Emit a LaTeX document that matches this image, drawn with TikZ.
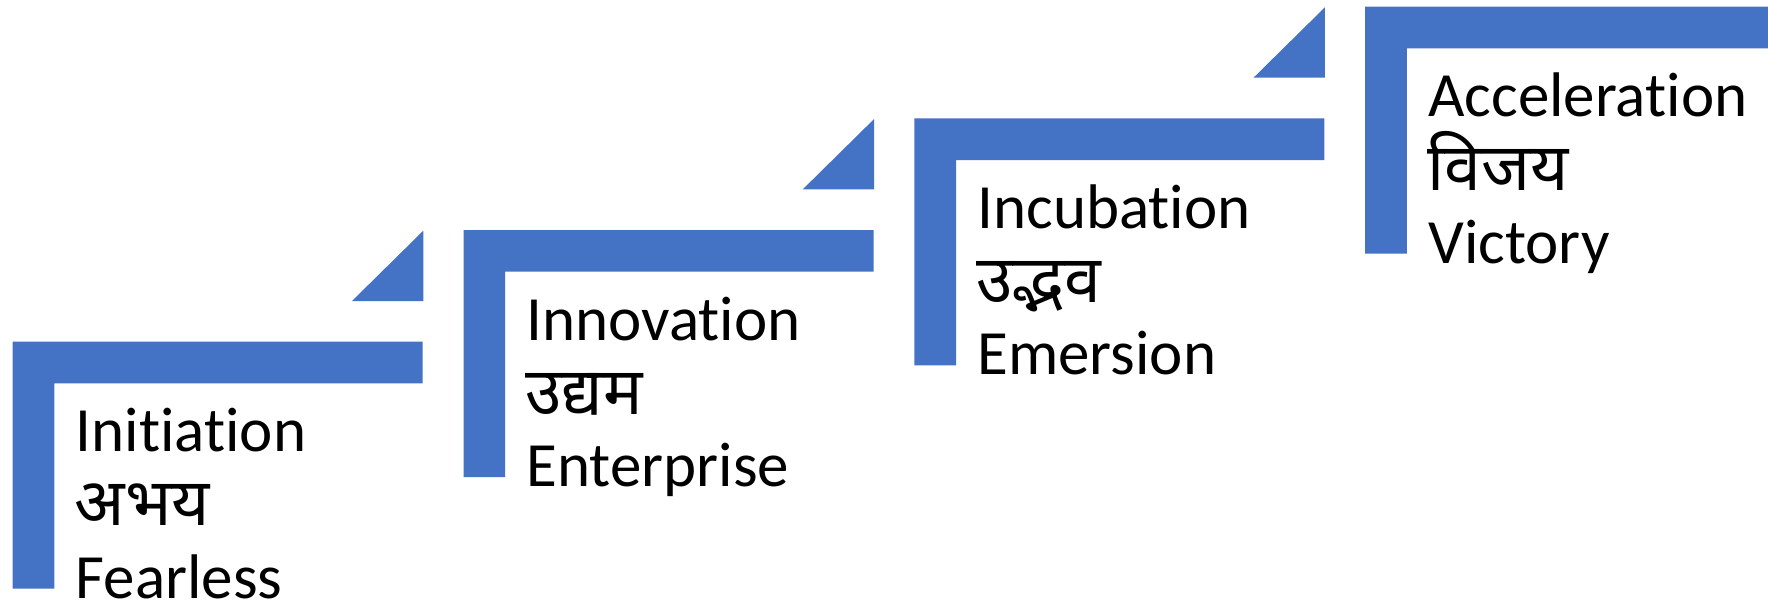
\documentclass[tikz,border=0pt]{standalone}
\usepackage{fontspec}
\setmainfont[RawFeature={-liga;-clig;-dlig}]{Carlito}
\newfontfamily\deva[Script=Devanagari]{Noto Sans}
\definecolor{stepblue}{HTML}{4472C4}
\tikzset{
  stepfill/.style={fill=stepblue, draw=none},
  lat/.style={anchor=base west, inner sep=0pt, text depth=0pt, font=\fontsize{63}{75}\selectfont},
  dev/.style={anchor=base west, inner sep=0pt, font=\deva\fontsize{66}{78}\selectfont},
}
\begin{document}
\begin{tikzpicture}[x=1pt,y=-1pt]
\useasboundingbox (0,0) rectangle (1768,603);
\fill[white] (0,0) rectangle (1768,603);
% step geometry
\def\bw{410}\def\th{41.7}\def\vh{247}
\foreach \i/\en/\hi/\tr in {0/Initiation/अभय/Fearless, 1/Innovation/उद्यम/Enterprise, 2/Incubation/उद्भव/Emersion, 3/Acceleration/विजय/Victory}{
  \pgfmathsetmacro{\L}{12.7+450.8*\i}
  \pgfmathsetmacro{\T}{341.7-111.7*\i}
  \pgfmathsetmacro{\R}{min(\L+\bw,1768)}
  \coordinate (s\i) at (\L,\T);
  \fill[stepfill] (s\i) -- (\R,\T) -- (\R,\T+\th) -- (\L+\th,\T+\th) -- (\L+\th,\T+\vh) -- (\L,\T+\vh) -- cycle;
  \ifnum\i<3
    \fill[stepfill] (\L+339.3,\T-40.7) -- (\L+410.6,\T-111) -- (\L+410.6,\T-40.7) -- cycle;
  \fi
  \node[lat] (en\i) at (\L+63,\T+110) {\en};
  \node[dev] (hi\i) at (\L+62,\T+184) {\hi};
  \node[lat] (tr\i) at (\L+63,\T+256.5) {\tr};
}
\end{tikzpicture}
\end{document}
